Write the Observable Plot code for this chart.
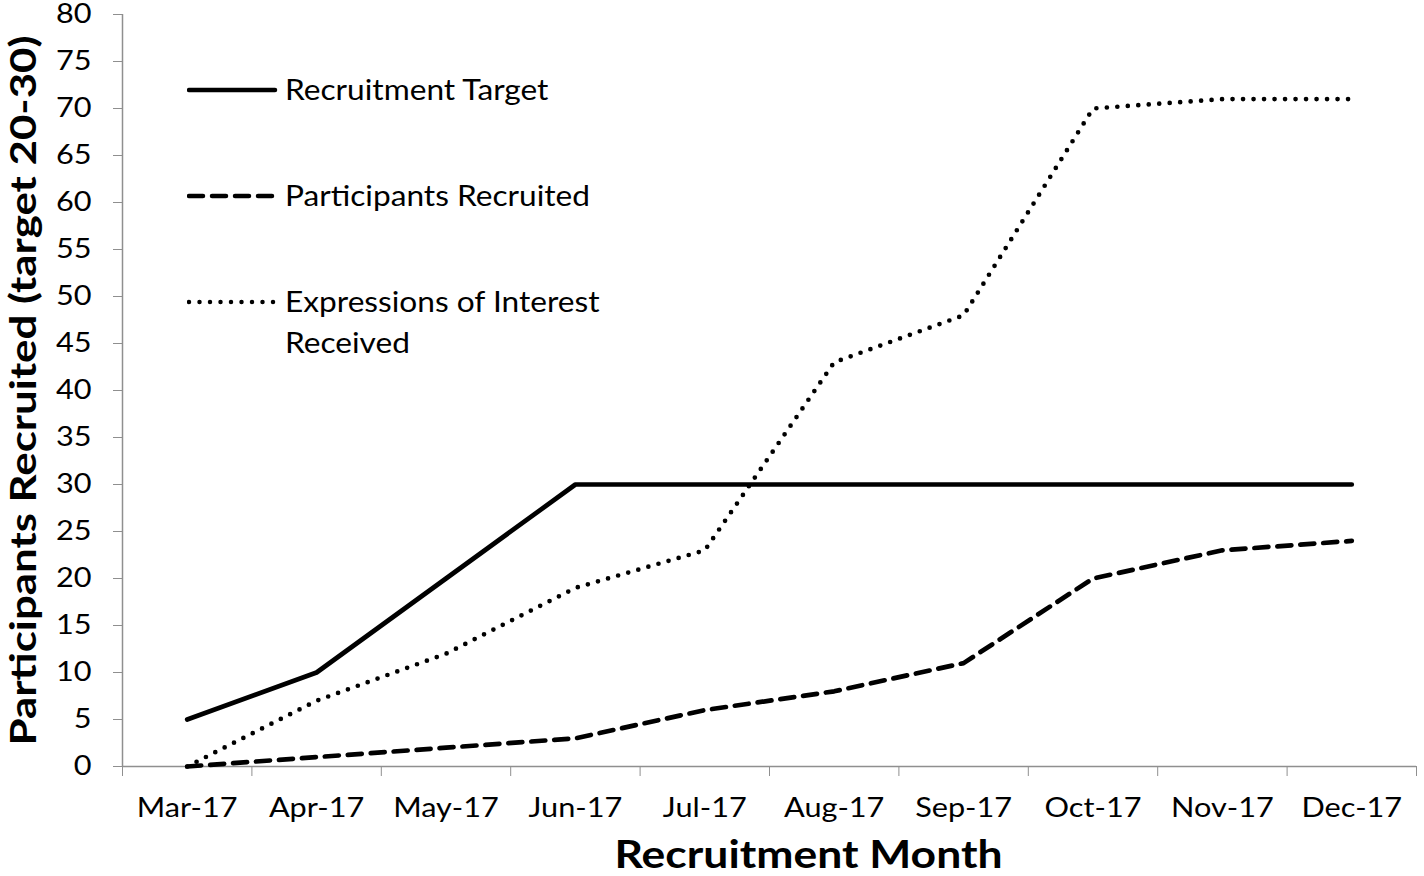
<!DOCTYPE html>
<html>
<head>
<meta charset="utf-8">
<script src="https://cdn.jsdelivr.net/npm/d3@7"></script>
<script src="https://cdn.jsdelivr.net/npm/@observablehq/plot@0.6"></script>
<style>
  html, body { margin: 0; padding: 0; background: #fff; }
  #wrap { position: relative; width: 1424px; height: 876px; font-family: Lato, "Open Sans", sans-serif; }
  #legend { position: absolute; left: 0; top: 0; font-family: Lato, sans-serif; font-size: 28px; color: #000; }
  .lg-item { position: absolute; display: flex; align-items: flex-start; }
  .lg-text { margin-left: 6px; line-height: 41px; margin-top: -1px; white-space: nowrap; transform: scaleX(1.13); transform-origin: left center; }
</style>
</head>
<body>
<div id="wrap"></div>
<script>
// ---- data ----
const months = ["Mar-17","Apr-17","May-17","Jun-17","Jul-17","Aug-17","Sep-17","Oct-17","Nov-17","Dec-17"];
const recruitmentTarget = [5, 10, 20, 30, 30, 30, 30, 30, 30, 30];
const participantsRecruited = [0, 1, 2, 3, 6, 8, 11, 20, 23, 24];
const expressionsOfInterest = [0, 7, 12, 19, 23, 43, 48, 70, 71, 71];
const yTicks = d3.range(0, 81, 5);
const seriesNames = ["Recruitment Target", "Participants Recruited", "Expressions of Interest Received"];
const yTitle = "Participants Recruited (target 20-30)";
const xTitle = "Recruitment Month";

const toRows = vals => vals.map((v, i) => ({pos: i + 0.5, month: months[i], value: v}));
const gray = "#8f8f8f";

const chart = Plot.plot({
  width: 1424,
  height: 876,
  marginLeft: 122,
  marginRight: 8,
  marginTop: 14,
  marginBottom: 110,
  style: {fontFamily: "Lato, 'Open Sans', sans-serif", color: "#000", background: "#fff", overflow: "visible"},
  x: {type: "linear", domain: [0, months.length]},
  y: {domain: [0, 80]},
  marks: [
    Plot.axisY({ticks: yTicks, tickSize: 9, tickPadding: 22, stroke: gray, fill: "#000", fontSize: 26, label: null, tickFormat: d => String(d)}),
    Plot.axisX({ticks: d3.range(0, months.length + 1), tickSize: 10, stroke: gray, tickFormat: () => "", label: null}),
    Plot.axisX({ticks: d3.range(0.5, months.length, 1), tickSize: 0, tickPadding: 32, fill: "#000", fontSize: 26, label: null,
      tickFormat: d => months[Math.floor(d)]}),
    Plot.ruleX([0], {stroke: gray, strokeWidth: 1.5}),
    Plot.ruleY([0], {stroke: gray, strokeWidth: 1.5}),
    Plot.line(toRows(recruitmentTarget), {x: "pos", y: "value", stroke: "#000", strokeWidth: 4.7, strokeLinecap: "round", strokeLinejoin: "round"}),
    Plot.line(toRows(participantsRecruited), {x: "pos", y: "value", stroke: "#000", strokeWidth: 4.7, strokeDasharray: "14,9", strokeLinecap: "round", strokeLinejoin: "round"}),
    Plot.line(toRows(expressionsOfInterest), {x: "pos", y: "value", stroke: "#000", strokeWidth: 4.7, strokeDasharray: "0,10.5", strokeLinecap: "round", strokeLinejoin: "round"}),
    Plot.text([yTitle], {frameAnchor: "left", rotate: -90, dx: -98, fontSize: 37, fontWeight: "bold", fill: "#000", textAnchor: "middle"}),
    Plot.text([xTitle], {frameAnchor: "bottom", dx: 39, dy: 74, lineAnchor: "top", fontSize: 39, fontWeight: "bold", fill: "#000", textAnchor: "middle"})
  ]
});

const wrap = document.getElementById("wrap");
wrap.appendChild(chart);

// widen texts to match the reference's wider glyph set
function stretch(sel, factor) {
  chart.querySelectorAll(sel).forEach(t => {
    const len = t.getComputedTextLength();
    if (len > 0) {
      t.setAttribute("textLength", (len * factor).toFixed(1));
      t.setAttribute("lengthAdjust", "spacingAndGlyphs");
    }
  });
}
stretch('g[aria-label="y-axis tick label"] text', 1.18);
stretch('g[aria-label="x-axis tick label"] text', 1.18);
const titleTexts = chart.querySelectorAll('g[aria-label="text"] text');
titleTexts.forEach(t => {
  const target = t.textContent === yTitle ? 710 : 388;
  t.setAttribute("textLength", target);
  t.setAttribute("lengthAdjust", "spacingAndGlyphs");
});

// ---- legend overlay ----
const legend = document.createElement("div");
legend.id = "legend";
const styles = [{dash: null}, {dash: "14,9"}, {dash: "0,10.5"}];
const rowsY = [90, 196, 302];
seriesNames.forEach((name, i) => {
  const item = document.createElement("div");
  item.className = "lg-item";
  item.style.left = "187px";
  item.style.top = (rowsY[i] - 20) + "px";
  const svg = `<svg width="92" height="40" style="flex:none"><line x1="2" y1="20" x2="88" y2="20" stroke="#000" stroke-width="4.5" stroke-linecap="round" ${styles[i].dash ? `stroke-dasharray="${styles[i].dash}"` : ""}/></svg>`;
  const label = name === "Expressions of Interest Received" ? "Expressions of Interest<br>Received" : name;
  item.innerHTML = svg + `<div class="lg-text">${label}</div>`;
  legend.appendChild(item);
});
wrap.appendChild(legend);
</script>
</body>
</html>
